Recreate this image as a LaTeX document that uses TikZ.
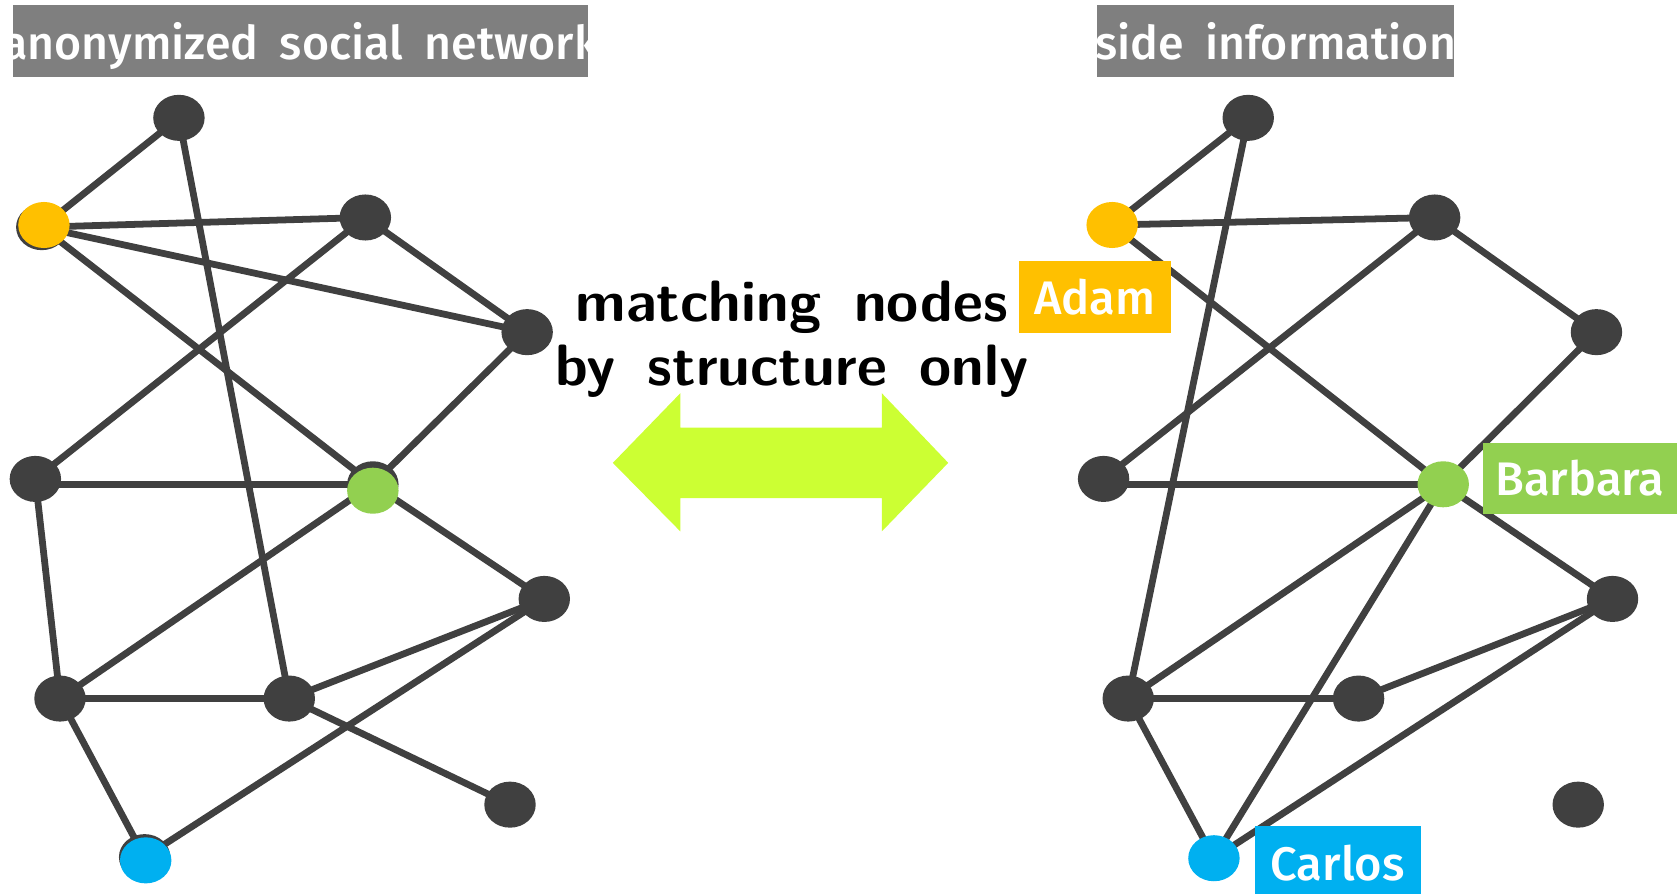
\documentclass[tikz,border=0pt]{standalone}
\usepackage{fontspec}
\newfontfamily\firafont{Fira Sans}
\newfontfamily\firamed{Fira Sans Medium}
\usetikzlibrary{shapes.geometric,backgrounds}
\definecolor{nodegray}{HTML}{404040}
\definecolor{titlegray}{HTML}{7F7F7F}
\definecolor{adamc}{HTML}{FFC000}
\definecolor{barbc}{HTML}{92D050}
\definecolor{carlc}{HTML}{00B0F0}
\definecolor{limec}{HTML}{CCFF33}
\newcommand\titlefnt{\firamed\fontsize{24.7}{30}\selectfont\spaceskip 0.46em\relax}
\newcommand\midfnt{\sffamily\bfseries\fontsize{31}{37}\selectfont\spaceskip 0.56em\relax}
\newcommand\lblfnt{\firamed\fontsize{25}{30}\selectfont}
\begin{document}
\begin{tikzpicture}[x=0.02cm,y=-0.02cm,
  vert/.style={ellipse, fill=nodegray, minimum width=0.96cm, minimum height=0.86cm, inner sep=0pt},
  yel/.style={vert, fill=adamc},
  grn/.style={vert, fill=barbc},
  blu/.style={vert, fill=carlc},
  lnk/.style={draw=nodegray, line width=3.6pt},
  titlebox/.style={fill=titlegray, minimum height=1.34cm, inner sep=0pt},
  titletext/.style={text=white, inner sep=0pt, font=\titlefnt},
  lbl/.style={text=white, minimum height=1.34cm, inner sep=0pt, font=\lblfnt},
  midtext/.style={inner sep=0pt, font=\midfnt}
]
\useasboundingbox (0,0) rectangle (1568,834);

% titles
\node[titlebox, minimum width=10.74cm] (tb1) at (280.5,38.5) {};
\node[titlebox, minimum width=6.66cm] (tb2) at (1190.5,38.5) {};
\begin{scope}
  \clip (tb1.south west) rectangle (tb1.north east);
  \node[titletext, anchor=base] (tt1) at (280.5,56) {anonymized social network};
\end{scope}
\begin{scope}
  \clip (tb2.south west) rectangle (tb2.north east);
  \node[titletext, anchor=base] (tt2) at (1190.5,56) {side information};
\end{scope}

% middle text and arrow
\node[midtext, anchor=base] (m1) at (739,300) {matching nodes};
\node[midtext, anchor=base] (m2) at (739,360) {by structure only};
\fill[limec] (572,432) -- (635,367) -- (635,399) -- (823,399) -- (823,367) -- (885,432)
  -- (823,496) -- (823,465) -- (635,465) -- (635,496) -- cycle;

% left graph
\node[vert] (lA) at (167,110) {};
\node[vert] (lY) at (39,212) {};
\node[vert] (lB) at (341,203) {};
\node[vert] (lC) at (492,310) {};
\node[vert] (lD) at (33,447) {};
\node[vert] (lG) at (348,452) {};
\node[vert] (lE) at (508,559) {};
\node[vert] (lF) at (56,652) {};
\node[vert] (lH) at (270,652) {};
\node[vert] (lI) at (476,751) {};
\node[vert] (lBl) at (135,800) {};
\node[yel] (lYc) at (41,210) {};
\node[grn] (lGc) at (348,458) {};
\node[blu] (lBlc) at (136,803) {};

% right graph
\node[vert] (rA) at (1165,110) {};
\node[yel] (rY) at (1038,210) {};
\node[vert] (rB) at (1339,203) {};
\node[vert] (rC) at (1490,310) {};
\node[vert] (rD) at (1030,447) {};
\node[grn] (rG) at (1347,452) {};
\node[vert] (rE) at (1505,559) {};
\node[vert] (rF) at (1053,652) {};
\node[vert] (rH) at (1268,652) {};
\node[vert] (rI) at (1473,751) {};
\node[blu] (rBl) at (1133,801) {};

\begin{scope}[on background layer]
  \foreach \a/\b in {lA/lY, lA/lH, lY/lB, lY/lC, lY/lG, lB/lD, lB/lC, lC/lG, lD/lF,
                     lG/lF, lG/lE, lF/lH, lF/lBl, lH/lE, lH/lI, lE/lBl,
                     rA/rY, rA/rF, rY/rB, rY/rG, rB/rD, rB/rC, rC/rG, rG/rE,
                     rG/rF, rG/rBl, rF/rH, rF/rBl, rH/rE, rE/rBl}
    \draw[lnk] (\a.center) -- (\b.center);
  \draw[lnk] (lD.center |- lG.center) -- (lG.center);
  \draw[lnk] (rD.center |- rG.center) -- (rG.center);
\end{scope}

% labels
\node[lbl, fill=adamc, minimum width=2.84cm] (ladam) at (1022,277.5) {Adam};
\node[lbl, fill=barbc, minimum width=3.62cm] (lbarb) at (1474.5,446.5) {Barbara};
\node[lbl, fill=carlc, minimum width=3.1cm, minimum height=1.4cm] (lcarl) at (1248.5,806) {Carlos};
\end{tikzpicture}
\end{document}
